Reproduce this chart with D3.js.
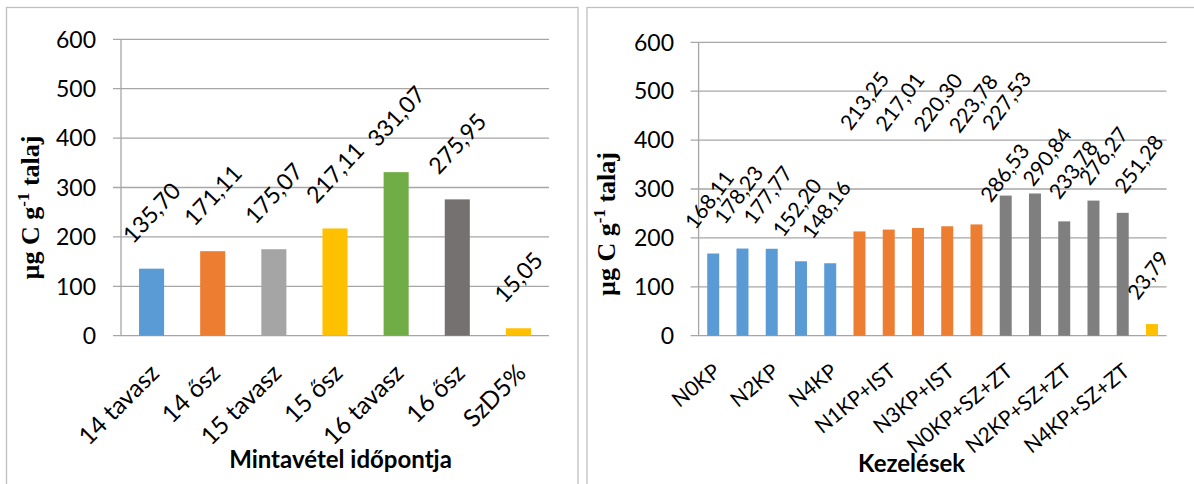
<!DOCTYPE html>
<html>
<head>
<meta charset="utf-8">
<script src="https://cdnjs.cloudflare.com/ajax/libs/d3/7.8.5/d3.min.js"></script>
<style>
  html, body { margin: 0; padding: 0; background: #fff; }
  svg { display: block; }
</style>
</head>
<body>
<svg id="chart" width="1194" height="484"></svg>
<script>
// ---------- DATA ----------
const leftCategories = ["14 tavasz", "14 ősz", "15 tavasz", "15 ősz", "16 tavasz", "16 ősz", "SzD5%"];
const leftValues = [135.70, 171.11, 175.07, 217.11, 331.07, 275.95, 15.05];

const rightCategories = ["N0KP", "N1KP", "N2KP", "N3KP", "N4KP",
  "N0KP+IST", "N1KP+IST", "N2KP+IST", "N3KP+IST", "N4KP+IST",
  "N0KP+SZ+ZT", "N1KP+SZ+ZT", "N2KP+SZ+ZT", "N3KP+SZ+ZT", "N4KP+SZ+ZT", "SzD5%"];
const rightValues = [168.11, 178.23, 177.77, 152.20, 148.16,
  213.25, 217.01, 220.30, 223.78, 227.53,
  286.53, 290.84, 233.78, 276.27, 251.28, 23.79];
// category labels shown on the right axis (every other one)
const rightShownLabels = ["N0KP", "N2KP", "N4KP", "N1KP+IST", "N3KP+IST", "N0KP+SZ+ZT", "N2KP+SZ+ZT", "N4KP+SZ+ZT"];

const yTicks = [0, 100, 200, 300, 400, 500, 600];
const leftXTitle = "Mintavétel időpontja";
const rightXTitle = "Kezelések";

// ---------- STYLE ----------
const leftColors = ["#5B9BD5", "#ED7D31", "#A5A5A5", "#FFC000", "#70AD47", "#767171", "#FFC000"];
const rightColors = ["#5B9BD5", "#5B9BD5", "#5B9BD5", "#5B9BD5", "#5B9BD5",
  "#ED7D31", "#ED7D31", "#ED7D31", "#ED7D31", "#ED7D31",
  "#7F7F7F", "#7F7F7F", "#7F7F7F", "#7F7F7F", "#7F7F7F", "#FFC000"];
// manual nudges (px) of the right-hand data labels, as placed in the original
const rightLabelNudge = [[0,0],[0,0],[0,0],[0,0],[0,0],
  [9,-77],[15,-74],[24,-72],[30,-69],[34,-70],
  [3,31],[16,17],[13,2],[14,9],[20,5],[0,0]];

const fmt = d3.formatLocale({decimal: ",", thousands: " ", grouping: [3], currency: ["", ""]}).format(".2f");

const svg = d3.select("#chart");
const gridColor = "#A6A6A6";
const frameColor = "#BFBFBF";

// panel frames
svg.append("rect").attr("x", 6.5).attr("y", 7.5).attr("width", 571.5).attr("height", 520)
  .attr("fill", "none").attr("stroke", frameColor).attr("stroke-width", 1.3);
svg.append("rect").attr("x", 587).attr("y", 7.5).attr("width", 650).attr("height", 520)
  .attr("fill", "none").attr("stroke", frameColor).attr("stroke-width", 1.3);

function drawChart(cfg) {
  const g = svg.append("g");
  const x = d3.scaleBand().domain(cfg.categories).range([cfg.x0, cfg.x1]).paddingInner(0).paddingOuter(0);
  const y = d3.scaleLinear().domain([0, 600]).range([cfg.yBottom, cfg.yTop]);
  const barW = x.bandwidth() * 0.41;

  // gridlines (extend left as tick marks)
  g.selectAll("line.grid").data(yTicks).join("line")
    .attr("x1", cfg.x0 - 8).attr("x2", cfg.x1)
    .attr("y1", d => y(d)).attr("y2", d => y(d))
    .attr("stroke", gridColor).attr("stroke-width", 1.3);
  // y axis line
  g.append("line").attr("x1", cfg.x0).attr("x2", cfg.x0)
    .attr("y1", y(600)).attr("y2", y(0))
    .attr("stroke", gridColor).attr("stroke-width", 1.3);

  // tick labels
  g.selectAll("text.ytick").data(yTicks).join("text")
    .attr("x", cfg.tickLabelX).attr("y", d => y(d)).attr("dy", "0.36em")
    .attr("text-anchor", "end")
    .style("font-family", "Lato").style("font-size", "23px").attr("fill", "#000")
    .text(d => d);

  // bars
  g.selectAll("rect.bar").data(cfg.values).join("rect")
    .attr("x", (d, i) => x(cfg.categories[i]) + (x.bandwidth() - barW) / 2)
    .attr("width", barW)
    .attr("y", d => y(d)).attr("height", d => y(0) - y(d))
    .attr("fill", (d, i) => cfg.colors[i]);

  // data labels (rotated, centred over their bar)
  const th = cfg.labelAngle * Math.PI / 180;
  const c = Math.cos(th), s = Math.sin(th);
  const capH = 0.7165 * cfg.labelSize;
  cfg.values.forEach((v, i) => {
    const t = g.append("text")
      .style("font-family", "Lato").style("font-size", cfg.labelSize + "px").attr("fill", "#000")
      .text(fmt(v));
    const w = t.node().getComputedTextLength();
    const cx = x(cfg.categories[i]) + x.bandwidth() / 2;
    const nudge = cfg.nudge ? cfg.nudge[i] : [0, 0];
    const ox = cx - (w * c - capH * s) / 2 + cfg.labelAdjX + nudge[0];
    const oy = y(v) - cfg.labelGap + nudge[1];
    t.attr("transform", "translate(" + ox + "," + oy + ") rotate(" + (-cfg.labelAngle) + ")");
  });

  // category labels
  g.selectAll("text.cat").data(cfg.shown).join("text")
    .attr("transform", d => "translate(" + (x(d) + x.bandwidth() / 2 + cfg.catDX) + "," + (y(0) + cfg.catDY) + ") rotate(" + (-cfg.catAngle) + ")")
    .attr("text-anchor", "end")
    .style("font-family", "Lato").style("font-size", cfg.catSize + "px").attr("fill", "#000")
    .text(d => d);

  // x title
  g.append("text").attr("x", cfg.xTitleX).attr("y", cfg.xTitleY)
    .attr("text-anchor", "middle")
    .style("font-family", "Lato").style("font-weight", "bold").style("font-size", "24px").attr("fill", "#000")
    .text(cfg.xTitle);

  // y title
  const yt = g.append("text")
    .attr("transform", "translate(" + cfg.yTitleX + "," + cfg.yTitleY + ") rotate(-90)")
    .attr("text-anchor", "middle")
    .style("font-family", "'Liberation Serif', 'Times New Roman', serif").style("font-weight", "bold")
    .style("font-size", "26px").attr("fill", "#000");
  yt.append("tspan").text("µg C g");
  yt.append("tspan").attr("dy", -10).style("font-size", "17px").text("-1");
  yt.append("tspan").attr("dy", 10).text(" talaj");
}

drawChart({
  categories: leftCategories, values: leftValues, colors: leftColors, shown: leftCategories,
  x0: 121, x1: 549, yBottom: 335.7, yTop: 39.3, tickLabelX: 96,
  labelSize: 23, labelAngle: 47, labelGap: 24, labelAdjX: 0,
  catSize: 24.5, catAngle: 45, catDX: 9, catDY: 39,
  xTitle: leftXTitle, xTitleX: 340.5, xTitleY: 468,
  yTitleX: 39, yTitleY: 207.5
});

drawChart({
  categories: rightCategories, values: rightValues, colors: rightColors, shown: rightShownLabels,
  x0: 698.6, x1: 1166.6, yBottom: 335.7, yTop: 42.3, tickLabelX: 674,
  labelSize: 21, labelAngle: 53, labelGap: 23, labelAdjX: -4, nudge: rightLabelNudge,
  catSize: 21, catAngle: 39, catDX: 8.5, catDY: 38,
  xTitle: rightXTitle, xTitleX: 911.6, xTitleY: 471.7,
  yTitleX: 615, yTitleY: 224
});
</script>
</body>
</html>
